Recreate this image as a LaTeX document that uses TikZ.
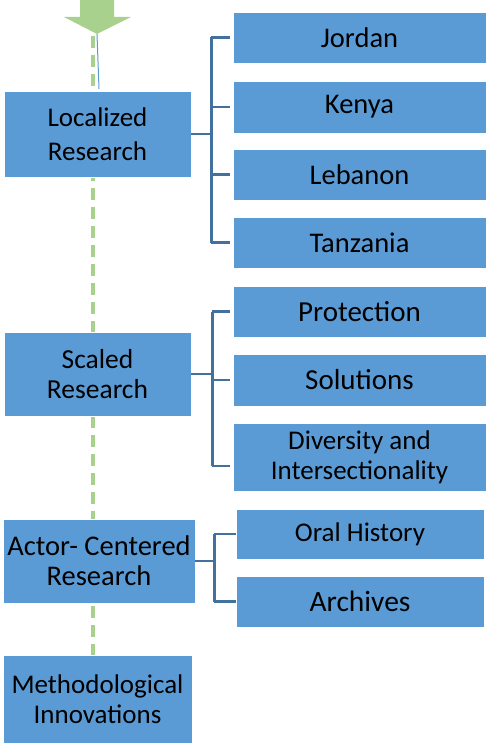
\documentclass[tikz,border=0pt]{standalone}
\usepackage{fontspec}
\setmainfont{Carlito}
\begin{document}
\begin{tikzpicture}[x=1pt,y=-1pt,
  box/.style={rectangle, fill=boxblue, draw=white, line width=0.8pt,
    inner sep=0pt, align=center, text=black},
  fs/.style 2 args={font=\fontsize{#1}{#2}\selectfont},
  link/.style={draw=linkblue, line width=2.2pt},
  guide/.style={draw=arrowgreen, line width=3.6pt, dash pattern=on 12pt off 7pt}]
\definecolor{boxblue}{HTML}{5B9BD5}
\definecolor{linkblue}{HTML}{41719C}
\definecolor{arrowgreen}{HTML}{A9D18E}
\useasboundingbox (0,0) rectangle (490,743);

% vertical guide line and top arrow
\coordinate (gtop) at (93,36);
\coordinate (gbot) at (93,655);
\draw[guide] (gtop) -- (gbot);
\fill[arrowgreen] (80,-2) -- (114,-2) -- (114,17) -- (131,17) -- (97,34)
  -- (64,17) -- (80,17) -- cycle;
\coordinate (tip) at (97,34);
\coordinate (tipend) at (99,89);
\draw[boxblue, line width=1pt] (tip) -- (tipend);

% main stages
\node[box, fs={27}{34}, minimum width=187, minimum height=86] (loc) at (97.5,134) {Localized\\Research};
\node[box, fs={27.5}{29.5}, minimum width=187, minimum height=84] (sca) at (97.5,374) {Scaled\\Research};
\node[box, fs={28.5}{30}, minimum width=192, minimum height=84] (act) at (99,561) {Actor- Centered\\Research};
\node[box, fs={27}{30}, minimum width=189, minimum height=88] (met) at (97.5,699) {Methodological\\Innovations};

% sub-items
\node[box, fs={28.5}{34}, minimum width=253, minimum height=51] (jor) at (359.5,37.5) {Jordan};
\node[box, fs={28.5}{34}, minimum width=253, minimum height=52] (ken) at (359.5,107) {Kenya};
\node[box, fs={28.5}{34}, minimum width=253, minimum height=51] (leb) at (359.5,174.5) {Lebanon};
\node[box, fs={28.5}{34}, minimum width=253, minimum height=51] (tan) at (359.5,242.5) {Tanzania};
\node[box, fs={29}{34}, minimum width=253, minimum height=51] (pro) at (359.5,311.5) {Protection};
\node[box, fs={29}{34}, minimum width=253, minimum height=52] (sol) at (359.5,380) {Solutions};
\node[box, fs={27}{30}, minimum width=253, minimum height=68] (div) at (359.5,457) {Diversity and\\Intersectionality};
\node[box, fs={27}{34}, minimum width=248, minimum height=50] (ora) at (360,534) {Oral History};
\node[box, fs={29.5}{34}, minimum width=248, minimum height=51] (arc) at (360,601.5) {Archives};

% bracket connectors
\draw[link] (loc.east) -- ++(20,0) coordinate (lb);
\draw[link] (lb |- jor.west) -- (lb |- tan.west);
\foreach \n in {jor,ken,leb,tan} \draw[link] (lb |- \n.west) -- ([xshift=-3pt]\n.west);

\draw[link] (sca.east) -- ++(21,0) coordinate (sb);
\draw[link] (sb |- pro.west) -- ([yshift=-9pt]sb |- div.west);
\draw[link] (sb |- pro.west) -- ([xshift=-3pt]pro.west);
\draw[link] (sb |- sol.west) -- ([xshift=-3pt]sol.west);
\draw[link] ([yshift=-9pt]sb |- div.west) -- ([xshift=-3pt,yshift=-9pt]div.west);

\draw[link] (act.east) -- ++(19,0) coordinate (ab);
\draw[link] (ab |- ora.west) -- (ab |- arc.west);
\foreach \n in {ora,arc} \draw[link] (ab |- \n.west) -- (\n.west);
\end{tikzpicture}
\end{document}
